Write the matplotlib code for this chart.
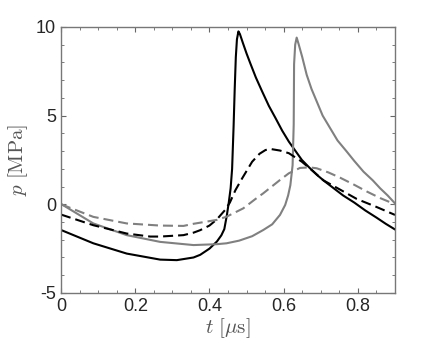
import matplotlib
matplotlib.use('Agg')
import matplotlib.pyplot as plt
from matplotlib.ticker import MultipleLocator

# values (t in microseconds, p in MPa)
t_black = [0.0, 0.087, 0.177, 0.267, 0.312, 0.357, 0.375, 0.40, 0.42, 0.432, 0.44,
           0.447, 0.452, 0.457, 0.461, 0.465, 0.468, 0.471, 0.474, 0.478, 0.482, 0.49,
           0.5, 0.51, 0.525, 0.542, 0.56, 0.578, 0.596, 0.614, 0.632, 0.649, 0.67,
           0.69, 0.71, 0.735, 0.76, 0.79, 0.82, 0.85, 0.875, 0.9]
p_black = [-1.45, -2.2, -2.78, -3.12, -3.15, -3.0, -2.85, -2.5, -2.1, -1.75, -1.4,
           -0.6, 0.1, 0.9, 2.0, 4.4, 6.5, 8.3, 9.3, 9.75, 9.6, 9.1,
           8.5, 7.95, 7.15, 6.36, 5.55, 4.86, 4.15, 3.53, 3.0, 2.5, 2.05,
           1.65, 1.3, 0.9, 0.5, 0.1, -0.35, -0.75, -1.1, -1.42]

t_gray = [0.0, 0.087, 0.177, 0.267, 0.357, 0.42, 0.446, 0.48, 0.515, 0.545, 0.569,
          0.59, 0.604, 0.612, 0.618, 0.624, 0.627, 0.628, 0.631, 0.635, 0.64, 0.65,
          0.662, 0.675, 0.689, 0.705, 0.725, 0.745, 0.77, 0.79, 0.815, 0.84, 0.86,
          0.88, 0.9]
p_gray = [0.02, -1.08, -1.74, -2.12, -2.3, -2.25, -2.2, -2.05, -1.8, -1.45, -1.13,
          -0.6, -0.04, 0.5, 1.08, 2.2, 4.5, 7.9, 9.0, 9.4, 9.05, 8.3,
          7.3, 6.5, 5.8, 5.0, 4.3, 3.6, 2.97, 2.45, 1.84, 1.35, 0.9,
          0.5, 0.05]

t_black_d = [0.0, 0.087, 0.177, 0.24, 0.267, 0.33, 0.357, 0.375, 0.4, 0.42, 0.443,
             0.455, 0.47, 0.488, 0.515, 0.535, 0.551, 0.564, 0.59, 0.614, 0.649,
             0.68, 0.707, 0.75, 0.797, 0.85, 0.9]
p_black_d = [-0.58, -1.18, -1.65, -1.82, -1.82, -1.74, -1.6, -1.46, -1.2, -0.85, -0.3,
             0.1, 0.8, 1.46, 2.4, 2.85, 3.06, 3.12, 3.03, 2.88, 2.4,
             1.85, 1.35, 0.85, 0.3, -0.15, -0.6]

t_gray_d = [0.0, 0.087, 0.177, 0.267, 0.33, 0.357, 0.42, 0.446, 0.491, 0.524, 0.545,
            0.59, 0.614, 0.644, 0.67, 0.689, 0.72, 0.752, 0.79, 0.824, 0.86, 0.9]
p_gray_d = [0.0, -0.71, -1.08, -1.2, -1.22, -1.1, -0.88, -0.7, -0.23, 0.3, 0.62,
            1.37, 1.75, 2.05, 2.08, 2.03, 1.8, 1.5, 1.1, 0.72, 0.35, 0.0]

plt.rcParams['font.family'] = ['Liberation Sans', 'DejaVu Sans']
plt.rcParams['mathtext.fontset'] = 'cm'
plt.rcParams['axes.unicode_minus'] = False

fig = plt.figure(figsize=(4.36, 3.5), dpi=100)
ax = fig.add_axes([0.14, 0.163, 0.766, 0.76])

gray = '#808080'
ax.plot(t_black, p_black, color='k', lw=1.5)
ax.plot(t_gray, p_gray, color=gray, lw=1.5)
ax.plot(t_black_d, p_black_d, color='k', lw=1.5, dashes=(4.8, 2.4))
ax.plot(t_gray_d, p_gray_d, color=gray, lw=1.5, dashes=(4.8, 2.4))

ax.set_xlim(0, 0.9)
ax.set_ylim(-5, 10)
ax.set_xticks([0, 0.2, 0.4, 0.6, 0.8])
ax.set_xticklabels(['0', '0.2', '0.4', '0.6', '0.8'])
ax.set_yticks([-5, 0, 5, 10])
ax.xaxis.set_minor_locator(MultipleLocator(0.05))
ax.yaxis.set_minor_locator(MultipleLocator(1))
ax.tick_params(which='both', direction='in', top=True, right=True, color='#666666',
               labelcolor='#262626', labelsize=13)
ax.tick_params(which='major', length=3.5, width=0.8)
ax.tick_params(which='minor', length=2, width=0.6)
for s in ax.spines.values():
    s.set_color('#777777')
    s.set_linewidth(1.0)

ax.set_xlabel(r'$t\ [\mu\mathrm{s}]$', fontsize=15, color='#555555', labelpad=1)
ax.set_ylabel(r'$p\ [\mathrm{MPa}]$', fontsize=15, color='#555555', labelpad=4)

plt.savefig('out.png', dpi=100)
